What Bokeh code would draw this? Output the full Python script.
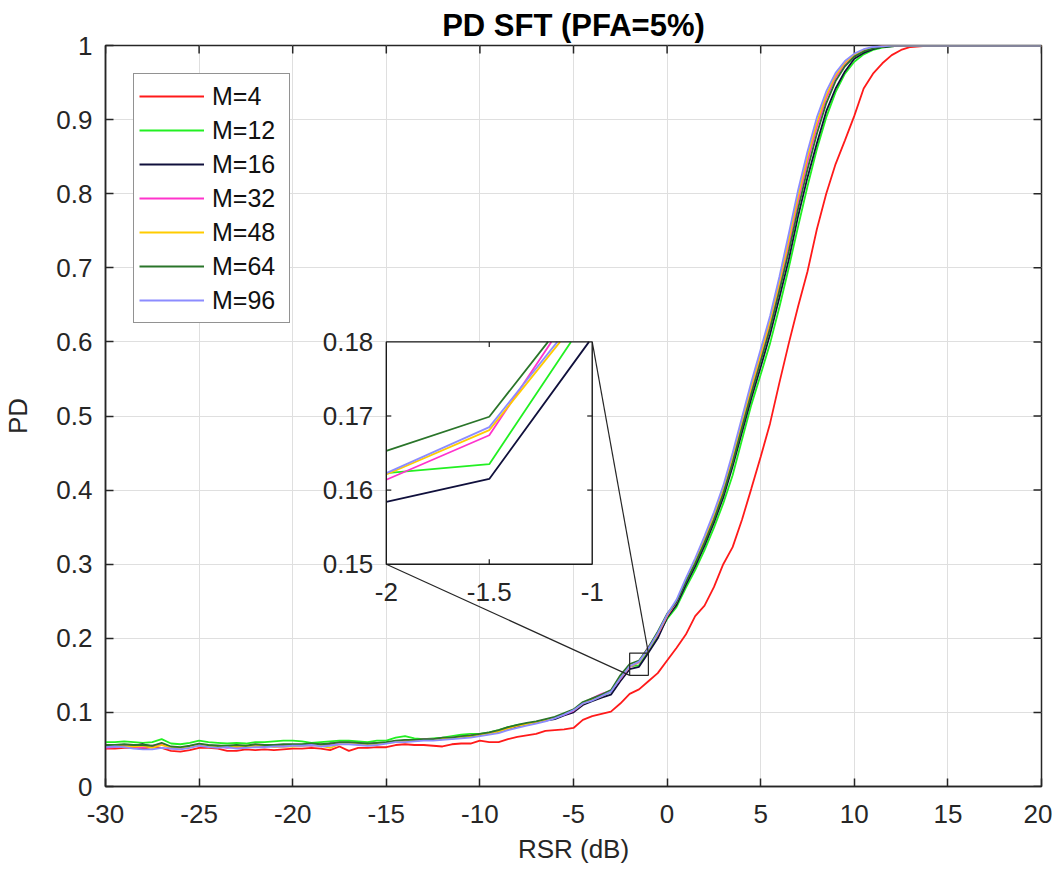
import numpy as np
from bokeh.plotting import figure
from bokeh.models import Range1d, FixedTicker, Legend, LegendItem
from bokeh.core.properties import value
from bokeh.embed import file_html
from bokeh.resources import INLINE

# ---------------- data ----------------
RSR_DB = np.arange(-30.0, 20.25, 0.5)

PD_M4 = [
    0.051, 0.051, 0.052, 0.052, 0.051, 0.053, 0.052, 0.048, 0.047, 0.049,
    0.052, 0.052, 0.051, 0.048, 0.048, 0.050, 0.049, 0.050, 0.049, 0.050,
    0.051, 0.051, 0.052, 0.051, 0.049, 0.054, 0.048, 0.052, 0.052, 0.053,
    0.053, 0.056, 0.057, 0.056, 0.056, 0.055, 0.054, 0.057, 0.058, 0.058,
    0.062, 0.060, 0.060, 0.064, 0.067, 0.069, 0.071, 0.075, 0.076, 0.077,
    0.079, 0.090, 0.095, 0.098, 0.101, 0.112, 0.125, 0.131, 0.142, 0.153,
    0.170, 0.187, 0.205, 0.230, 0.244, 0.269, 0.300, 0.323, 0.360, 0.402,
    0.445, 0.490, 0.545, 0.598, 0.648, 0.695, 0.752, 0.800, 0.840, 0.872,
    0.905, 0.942, 0.962, 0.976, 0.987, 0.994, 0.998, 0.999, 1.000, 1.000,
    1.000, 1.000, 1.000, 1.000, 1.000, 1.000, 1.000, 1.000, 1.000, 1.000,
    1.000,
]
PD_M12 = [
    0.060, 0.060, 0.061, 0.060, 0.059, 0.060, 0.064, 0.058, 0.057, 0.059,
    0.062, 0.060, 0.059, 0.058, 0.059, 0.058, 0.060, 0.060, 0.061, 0.062,
    0.062, 0.061, 0.059, 0.060, 0.061, 0.062, 0.062, 0.061, 0.060, 0.062,
    0.062, 0.066, 0.068, 0.065, 0.064, 0.065, 0.066, 0.068, 0.070, 0.071,
    0.071, 0.073, 0.076, 0.080, 0.083, 0.085, 0.087, 0.090, 0.093, 0.097,
    0.102, 0.111, 0.117, 0.122, 0.128, 0.145, 0.1623, 0.1635, 0.1843, 0.204,
    0.226, 0.242, 0.268, 0.292, 0.319, 0.349, 0.382, 0.420, 0.468, 0.515,
    0.556, 0.598, 0.647, 0.700, 0.756, 0.810, 0.860, 0.903, 0.937, 0.962,
    0.978, 0.988, 0.994, 0.997, 0.999, 1.000, 1.000, 1.000, 1.000, 1.000,
    1.000, 1.000, 1.000, 1.000, 1.000, 1.000, 1.000, 1.000, 1.000, 1.000,
    1.000,
]
PD_M16 = [
    0.055, 0.056, 0.056, 0.055, 0.057, 0.054, 0.057, 0.053, 0.052, 0.054,
    0.057, 0.055, 0.055, 0.054, 0.055, 0.054, 0.056, 0.055, 0.055, 0.056,
    0.056, 0.056, 0.057, 0.056, 0.058, 0.058, 0.059, 0.058, 0.057, 0.058,
    0.059, 0.061, 0.062, 0.062, 0.063, 0.063, 0.064, 0.065, 0.066, 0.068,
    0.069, 0.071, 0.074, 0.078, 0.081, 0.084, 0.086, 0.089, 0.091, 0.096,
    0.100, 0.110, 0.115, 0.120, 0.124, 0.142, 0.1584, 0.1615, 0.1806, 0.200,
    0.228, 0.245, 0.272, 0.297, 0.325, 0.356, 0.390, 0.432, 0.478, 0.524,
    0.566, 0.610, 0.660, 0.711, 0.770, 0.822, 0.868, 0.911, 0.942, 0.965,
    0.982, 0.990, 0.995, 0.998, 0.999, 1.000, 1.000, 1.000, 1.000, 1.000,
    1.000, 1.000, 1.000, 1.000, 1.000, 1.000, 1.000, 1.000, 1.000, 1.000,
    1.000,
]
PD_M32 = [
    0.052, 0.053, 0.055, 0.054, 0.053, 0.055, 0.057, 0.051, 0.051, 0.053,
    0.056, 0.055, 0.054, 0.052, 0.053, 0.054, 0.055, 0.056, 0.055, 0.054,
    0.055, 0.056, 0.055, 0.057, 0.056, 0.059, 0.058, 0.058, 0.057, 0.059,
    0.059, 0.061, 0.062, 0.062, 0.064, 0.064, 0.065, 0.066, 0.067, 0.069,
    0.070, 0.072, 0.075, 0.079, 0.082, 0.085, 0.087, 0.090, 0.093, 0.097,
    0.102, 0.112, 0.119, 0.125, 0.129, 0.145, 0.1614, 0.1674, 0.1883, 0.205,
    0.230, 0.249, 0.277, 0.303, 0.332, 0.363, 0.398, 0.440, 0.488, 0.535,
    0.579, 0.623, 0.675, 0.731, 0.790, 0.843, 0.890, 0.929, 0.957, 0.975,
    0.987, 0.993, 0.997, 0.999, 1.000, 1.000, 1.000, 1.000, 1.000, 1.000,
    1.000, 1.000, 1.000, 1.000, 1.000, 1.000, 1.000, 1.000, 1.000, 1.000,
    1.000,
]
PD_M48 = [
    0.055, 0.055, 0.054, 0.054, 0.055, 0.052, 0.056, 0.053, 0.052, 0.053,
    0.056, 0.054, 0.054, 0.053, 0.054, 0.055, 0.054, 0.056, 0.053, 0.054,
    0.054, 0.055, 0.056, 0.055, 0.052, 0.057, 0.058, 0.057, 0.057, 0.057,
    0.059, 0.060, 0.061, 0.062, 0.063, 0.063, 0.065, 0.065, 0.067, 0.068,
    0.070, 0.071, 0.074, 0.078, 0.082, 0.084, 0.087, 0.090, 0.093, 0.098,
    0.103, 0.112, 0.117, 0.122, 0.129, 0.146, 0.1621, 0.1681, 0.1854, 0.206,
    0.231, 0.250, 0.279, 0.305, 0.335, 0.366, 0.402, 0.445, 0.493, 0.540,
    0.584, 0.629, 0.681, 0.738, 0.797, 0.850, 0.896, 0.933, 0.960, 0.977,
    0.988, 0.994, 0.997, 0.999, 1.000, 1.000, 1.000, 1.000, 1.000, 1.000,
    1.000, 1.000, 1.000, 1.000, 1.000, 1.000, 1.000, 1.000, 1.000, 1.000,
    1.000,
]
PD_M64 = [
    0.056, 0.056, 0.057, 0.056, 0.056, 0.055, 0.059, 0.054, 0.053, 0.055,
    0.058, 0.056, 0.055, 0.055, 0.056, 0.055, 0.057, 0.056, 0.056, 0.057,
    0.057, 0.057, 0.058, 0.057, 0.058, 0.060, 0.060, 0.059, 0.058, 0.059,
    0.060, 0.062, 0.063, 0.063, 0.064, 0.064, 0.066, 0.066, 0.068, 0.069,
    0.071, 0.073, 0.076, 0.080, 0.083, 0.086, 0.088, 0.091, 0.094, 0.099,
    0.104, 0.114, 0.119, 0.124, 0.130, 0.150, 0.1653, 0.1699, 0.1876, 0.209,
    0.233, 0.249, 0.276, 0.301, 0.329, 0.360, 0.395, 0.437, 0.484, 0.530,
    0.574, 0.618, 0.669, 0.722, 0.780, 0.833, 0.881, 0.922, 0.952, 0.972,
    0.985, 0.992, 0.996, 0.998, 1.000, 1.000, 1.000, 1.000, 1.000, 1.000,
    1.000, 1.000, 1.000, 1.000, 1.000, 1.000, 1.000, 1.000, 1.000, 1.000,
    1.000,
]
PD_M96 = [
    0.053, 0.054, 0.053, 0.051, 0.050, 0.050, 0.052, 0.051, 0.050, 0.052,
    0.055, 0.053, 0.052, 0.053, 0.051, 0.052, 0.053, 0.053, 0.054, 0.054,
    0.055, 0.055, 0.056, 0.054, 0.055, 0.057, 0.057, 0.056, 0.055, 0.056,
    0.058, 0.060, 0.060, 0.061, 0.062, 0.062, 0.063, 0.064, 0.065, 0.066,
    0.068, 0.070, 0.072, 0.076, 0.079, 0.082, 0.085, 0.088, 0.092, 0.097,
    0.103, 0.112, 0.116, 0.122, 0.128, 0.146, 0.1623, 0.1685, 0.1859, 0.207,
    0.232, 0.252, 0.281, 0.308, 0.338, 0.370, 0.406, 0.450, 0.498, 0.546,
    0.590, 0.635, 0.688, 0.746, 0.805, 0.857, 0.903, 0.938, 0.963, 0.979,
    0.989, 0.995, 0.998, 0.999, 1.000, 1.000, 1.000, 1.000, 1.000, 1.000,
    1.000, 1.000, 1.000, 1.000, 1.000, 1.000, 1.000, 1.000, 1.000, 1.000,
    1.000,
]

SERIES_LABELS = ["M=4", "M=12", "M=16", "M=32", "M=48", "M=64", "M=96"]
SERIES = [PD_M4, PD_M12, PD_M16, PD_M32, PD_M48, PD_M64, PD_M96]
COLORS = ["#ff1a1a", "#22f022", "#10103c", "#ff33cc", "#ffcc00", "#2a752a", "#8c8cff"]

X_RANGE = [-30, 20]
Y_RANGE = [0, 1]
X_TICKS = [-30, -25, -20, -15, -10, -5, 0, 5, 10, 15, 20]
X_TICK_LABELS = ["-30", "-25", "-20", "-15", "-10", "-5", "0", "5", "10", "15", "20"]
Y_TICKS = [0, 0.1, 0.2, 0.3, 0.4, 0.5, 0.6, 0.7, 0.8, 0.9, 1]
Y_TICK_LABELS = ["0", "0.1", "0.2", "0.3", "0.4", "0.5", "0.6", "0.7", "0.8", "0.9", "1"]

# zoomed region and where the inset sits (main data coordinates)
ZOOM_X = [-2, -1]
ZOOM_Y = [0.15, 0.18]
INSET_X = [-15, -4]
INSET_Y = [0.3, 0.6]
INSET_X_TICKS = [-2, -1.5, -1]
INSET_X_LABELS = ["-2", "-1.5", "-1"]
INSET_Y_TICKS = [0.15, 0.16, 0.17, 0.18]
INSET_Y_LABELS = ["0.15", "0.16", "0.17", "0.18"]

FONT = "Liberation Sans"
AX_COLOR = "#262626"


def clip_polyline(xs, ys, x0, x1, y0, y1):
    pieces = []
    cx, cy = [], []
    for i in range(len(xs) - 1):
        ax, ay, bx, by = float(xs[i]), float(ys[i]), float(xs[i + 1]), float(ys[i + 1])
        dx, dy = bx - ax, by - ay
        t0, t1 = 0.0, 1.0
        ok = True
        for pp, qq in ((-dx, ax - x0), (dx, x1 - ax), (-dy, ay - y0), (dy, y1 - ay)):
            if pp == 0:
                if qq < 0:
                    ok = False
                    break
            else:
                t = qq / pp
                if pp < 0:
                    if t > t1:
                        ok = False
                        break
                    t0 = max(t0, t)
                else:
                    if t < t0:
                        ok = False
                        break
                    t1 = min(t1, t)
        if not ok or t1 - t0 < 1e-12:
            if cx:
                pieces.append((cx, cy))
                cx, cy = [], []
            continue
        sx, sy = ax + t0 * dx, ay + t0 * dy
        ex, ey = ax + t1 * dx, ay + t1 * dy
        if cx and (abs(cx[-1] - sx) > 1e-9 or abs(cy[-1] - sy) > 1e-9):
            pieces.append((cx, cy))
            cx, cy = [], []
        if not cx:
            cx, cy = [sx], [sy]
        cx.append(ex)
        cy.append(ey)
    if cx:
        pieces.append((cx, cy))
    return pieces


p = figure(
    frame_width=936, frame_height=741,
    x_range=Range1d(*X_RANGE), y_range=Range1d(*Y_RANGE),
    output_backend="svg", toolbar_location=None,
    min_border_left=104, min_border_right=11, min_border_top=45, min_border_bottom=86,
    title="PD SFT (PFA=5%)",
)
p.title.align = "center"
p.title.text_font = FONT
p.title.text_font_size = "31px"
p.title.text_font_style = "bold"
p.title.text_color = "#000000"
p.title.standoff = 6

p.outline_line_color = AX_COLOR
p.outline_line_width = 1.5
p.background_fill_color = "white"
p.border_fill_color = "white"

p.xaxis.ticker = FixedTicker(ticks=X_TICKS)
p.yaxis.ticker = FixedTicker(ticks=Y_TICKS)
p.xaxis.major_label_overrides = dict(zip(X_TICKS, X_TICK_LABELS))
p.yaxis.major_label_overrides = dict(zip(Y_TICKS, Y_TICK_LABELS))
for ax in (p.xaxis[0], p.yaxis[0]):
    ax.axis_line_color = AX_COLOR
    ax.axis_line_width = 1.5
    ax.major_tick_in = 8
    ax.major_tick_out = 0
    ax.major_tick_line_color = AX_COLOR
    ax.major_tick_line_width = 1.5
    ax.minor_tick_line_color = None
    ax.major_label_text_font = FONT
    ax.major_label_text_font_size = "26px"
    ax.major_label_text_color = AX_COLOR
    ax.axis_label_text_font = FONT
    ax.axis_label_text_font_size = "26px"
    ax.axis_label_text_font_style = "normal"
    ax.axis_label_text_color = AX_COLOR
p.xaxis.axis_label = "RSR (dB)"
p.yaxis.axis_label = "PD"
p.xaxis.major_label_standoff = 18
p.yaxis.major_label_standoff = 13
p.xaxis.axis_label_standoff = 8
p.yaxis.axis_label_standoff = 20

p.xgrid.ticker = FixedTicker(ticks=X_TICKS)
p.ygrid.ticker = FixedTicker(ticks=Y_TICKS)
for g in (p.xgrid[0], p.ygrid[0]):
    g.grid_line_color = "#dfdfdf"
    g.grid_line_width = 1

# tick marks on the top and right edges of the box
p.ray(x=X_TICKS, y=[Y_RANGE[1]] * len(X_TICKS), length=8, length_units="screen",
      angle=-np.pi / 2, line_color=AX_COLOR, line_width=1.5)
p.ray(x=[X_RANGE[1]] * len(Y_TICKS), y=Y_TICKS, length=8, length_units="screen",
      angle=np.pi, line_color=AX_COLOR, line_width=1.5)

items = []
for label, ys, color in zip(SERIES_LABELS, SERIES, COLORS):
    r = p.line(RSR_DB, ys, line_color=color, line_width=1.8)
    items.append(LegendItem(label=label, renderers=[r]))

# zoom box and connectors
p.quad(left=[ZOOM_X[0]], right=[ZOOM_X[1]], bottom=[ZOOM_Y[0]], top=[ZOOM_Y[1]],
       fill_color=None, line_color=AX_COLOR, line_width=1.2)
p.segment(x0=[INSET_X[0], INSET_X[1]], y0=[INSET_Y[0], INSET_Y[1]],
          x1=[ZOOM_X[0], ZOOM_X[1]], y1=[ZOOM_Y[0], ZOOM_Y[1]],
          line_color=AX_COLOR, line_width=1.2)
# inset background
p.quad(left=[INSET_X[0]], right=[INSET_X[1]], bottom=[INSET_Y[0]], top=[INSET_Y[1]],
       fill_color="white", line_color=None)

sub = p.subplot(
    x_source=Range1d(ZOOM_X[0], ZOOM_X[1]), y_source=Range1d(ZOOM_Y[0], ZOOM_Y[1]),
    x_target=Range1d(INSET_X[0], INSET_X[1]), y_target=Range1d(INSET_Y[0], INSET_Y[1]),
)
for ys, color in zip(SERIES, COLORS):
    for px, py in clip_polyline(RSR_DB, ys, ZOOM_X[0], ZOOM_X[1], ZOOM_Y[0], ZOOM_Y[1]):
        sub.line(px, py, line_color=color, line_width=1.8)

sub.quad(left=[ZOOM_X[0]], right=[ZOOM_X[1]], bottom=[ZOOM_Y[0]], top=[ZOOM_Y[1]],
         fill_color=None, line_color="#1a1a1a", line_width=1.4)
inner_x = INSET_X_TICKS[1:-1]
inner_y = INSET_Y_TICKS[1:-1]
sub.ray(x=inner_x, y=[ZOOM_Y[0]] * len(inner_x), length=5, length_units="screen",
        angle=np.pi / 2, line_color="#1a1a1a", line_width=1.2)
sub.ray(x=inner_x, y=[ZOOM_Y[1]] * len(inner_x), length=5, length_units="screen",
        angle=-np.pi / 2, line_color="#1a1a1a", line_width=1.2)
sub.ray(x=[ZOOM_X[0]] * len(inner_y), y=inner_y, length=5, length_units="screen",
        angle=0, line_color="#1a1a1a", line_width=1.2)
sub.ray(x=[ZOOM_X[1]] * len(inner_y), y=inner_y, length=5, length_units="screen",
        angle=np.pi, line_color="#1a1a1a", line_width=1.2)
sub.text(x=INSET_X_TICKS, y=[ZOOM_Y[0]] * len(INSET_X_TICKS), text=INSET_X_LABELS,
         text_align="center", text_baseline="top", y_offset=19,
         text_font=value(FONT), text_font_size="26px", text_color=AX_COLOR)
sub.text(x=[ZOOM_X[0]] * len(INSET_Y_TICKS), y=INSET_Y_TICKS, text=INSET_Y_LABELS,
         text_align="right", text_baseline="middle", x_offset=-13,
         text_font=value(FONT), text_font_size="26px", text_color=AX_COLOR)

legend = Legend(items=items, location="top_left")
legend.margin = 28
legend.padding = 5
legend.spacing = 0
legend.label_height = 34
legend.glyph_height = 34
legend.glyph_width = 65
legend.label_standoff = 8
legend.label_width = 72
legend.label_text_font = FONT
legend.label_text_font_size = "25px"
legend.label_text_color = "#111111"
legend.border_line_color = AX_COLOR
legend.border_line_width = 1.2
legend.background_fill_alpha = 1.0
p.add_layout(legend)

open("out.html", "w").write(file_html(p, INLINE))
